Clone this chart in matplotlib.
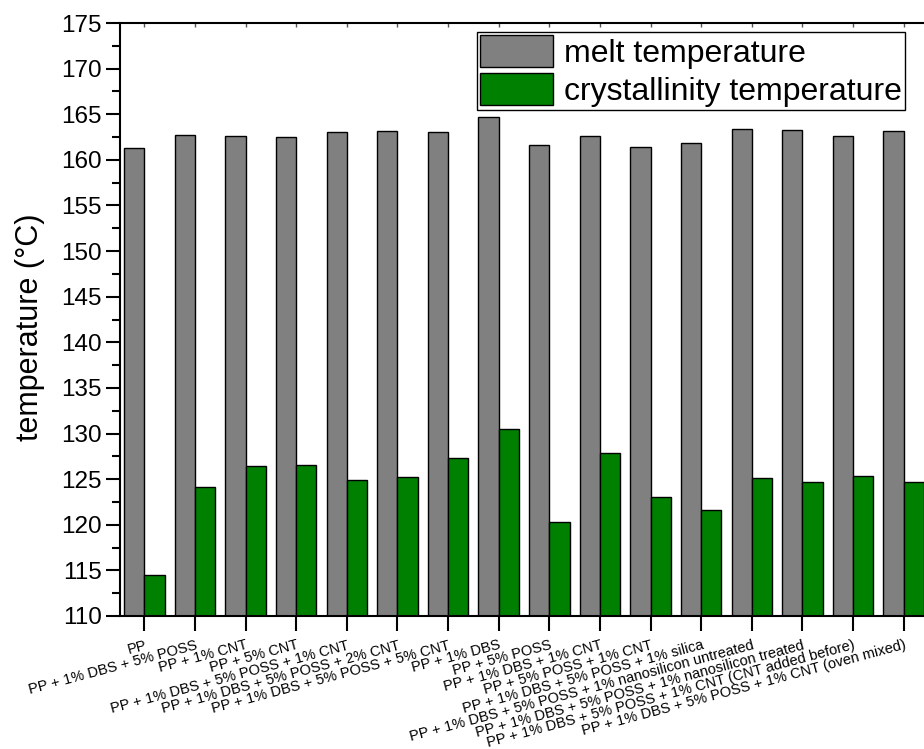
import numpy as np
import matplotlib
matplotlib.use("Agg")
import matplotlib.pyplot as plt
from matplotlib.ticker import MultipleLocator

plt.rcParams['font.family'] = ['Liberation Sans', 'DejaVu Sans']

samples = ['PP',
           'PP + 1% DBS + 5% POSS',
           'PP + 1% CNT',
           'PP + 5% CNT',
           'PP + 1% DBS + 5% POSS + 1% CNT',
           'PP + 1% DBS + 5% POSS + 2% CNT',
           'PP + 1% DBS + 5% POSS + 5% CNT',
           'PP + 1% DBS',
           'PP + 5% POSS',
           'PP + 1% DBS + 1% CNT',
           'PP + 5% POSS + 1% CNT',
           'PP + 1% DBS + 5% POSS + 1% silica',
           'PP + 1% DBS + 5% POSS + 1% nanosilicon untreated',
           'PP + 1% DBS + 5% POSS + 1% nanosilicon treated',
           'PP + 1% DBS + 5% POSS + 1% CNT (CNT added before)',
           'PP + 1% DBS + 5% POSS + 1% CNT (oven mixed)']
melt = [161.3, 162.75, 162.65, 162.5, 163.0, 163.15, 163.05, 164.7,
        161.65, 162.65, 161.45, 161.8, 163.35, 163.25, 162.6, 163.15]
cryst = [114.5, 124.1, 126.4, 126.6, 124.9, 125.2, 127.35, 130.5,
         120.3, 127.9, 123.0, 121.65, 125.1, 124.7, 125.3, 124.7]

fig = plt.figure(figsize=(9.24, 7.49), dpi=100)
ax = fig.add_axes([120/924, 133/749, 808/924, 593/749])

x = np.arange(len(samples))
w = 0.4
ax.bar(x - w/2, melt, w, color='#808080', edgecolor='black', lw=1, label='melt temperature')
ax.bar(x + w/2, cryst, w, color='#008000', edgecolor='black', lw=1, label='crystallinity temperature')

ax.set_xlim(-0.48, len(samples) - 0.52)
ax.set_ylim(110, 175)
ax.yaxis.set_major_locator(MultipleLocator(5))
ax.yaxis.set_minor_locator(MultipleLocator(2.5))
ax.set_xticks(x)
ax.set_xticklabels(samples, rotation=15, ha='right', rotation_mode='anchor', fontsize=10.5)

for s in ax.spines.values():
    s.set_linewidth(1.5)
ax.tick_params(axis='y', which='major', direction='out', length=10, width=1.5, labelsize=17.5, pad=3)
ax.tick_params(axis='y', which='minor', direction='out', length=6, width=1.5)
ax.tick_params(axis='x', which='major', direction='out', length=11, width=1.5, pad=5)
# small inward marks along the top frame
top = ax.secondary_xaxis('top')
top.set_xticks(x)
top.set_xticklabels([])
top.tick_params(direction='in', length=3, width=1, color='#555555')
top.spines['top'].set_visible(False)

ax.set_ylabel('temperature (°C)', fontsize=22)
ax.yaxis.set_label_coords(-0.093, 0.487)

fig.legend(loc='upper right', bbox_to_anchor=(905/924, 1 - 32/749), borderaxespad=0,
           fontsize=23, fancybox=False, edgecolor='black', framealpha=1,
           handlelength=2.3, handleheight=1.15, labelspacing=0.13, borderpad=0.1,
           handletextpad=0.33)

fig.savefig('out.png', dpi=100)
